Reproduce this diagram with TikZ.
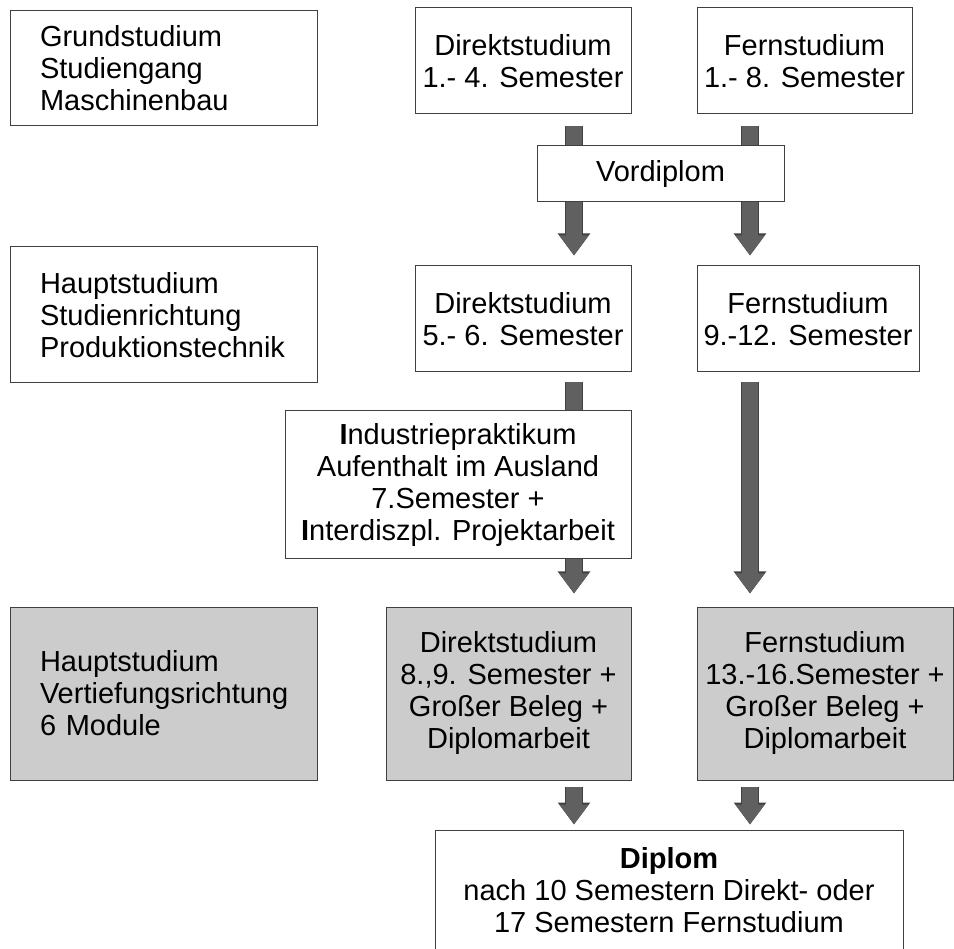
\documentclass[tikz,border=0pt]{standalone}
\usepackage{fontspec}
\setmainfont{Liberation Sans}
\usetikzlibrary{arrows.meta}
\definecolor{boxLine}{HTML}{404040}
\definecolor{greyFill}{HTML}{CCCCCC}
\definecolor{arrowFill}{HTML}{606060}
\newcommand\arrowLeft{574}
\newcommand\arrowRight{750}
\newcommand\sideMid{163.5}

\tikzset{
  box/.style={draw=boxLine, line width=1pt, fill=white, align=center, inner sep=0pt,
    font=\fontsize{29}{32}\selectfont},
  sidebox/.style={box, align=left, text width=247pt, inner xsep=30pt, minimum width=307pt},
  greybox/.style={fill=greyFill},
  bigarrow/.style={line width=16pt, draw=arrowFill, -{Triangle[width=28pt,length=20pt]},
    preaction={draw=boxLine, line width=18pt, -{Triangle[width=31pt,length=22pt]}}}
}

\begin{document}
\begin{tikzpicture}[x=1pt, y=-1pt]
    \useasboundingbox (0,0) rectangle (954,949);

    %% left column
    \node[sidebox, minimum height=115pt] (grund) at (\sideMid,68.5) {Grundstudium\\Studiengang\\Maschinenbau};
    \node[sidebox, minimum height=136pt] (haupt) at (\sideMid,315) {Hauptstudium\\Studienrichtung\\Produktionstechnik};
    \node[sidebox, greybox, minimum height=173pt] (vertiefung) at (\sideMid,693.5) {Hauptstudium\\Vertiefungsrichtung\\6 Module};

    %% Direktstudium and Fernstudium
    \node[box, minimum width=216pt, minimum height=106pt] (direktA) at (523,61) {Direktstudium\\1.- 4. Semester};
    \node[box, minimum width=215pt, minimum height=106pt] (fernA) at (804.5,61) {Fernstudium\\1.- 8. Semester};
    \node[box, minimum width=216pt, minimum height=106pt] (direktB) at (523,319) {Direktstudium\\5.- 6. Semester};
    \node[box, minimum width=222pt, minimum height=106pt] (fernB) at (808,319) {Fernstudium\\9.-12. Semester};
    \node[box, greybox, minimum width=245pt, minimum height=173pt] (direktC) at (508.5,693.5) {Direktstudium\\8.,9. Semester +\\Großer Beleg +\\Diplomarbeit};
    \node[box, greybox, minimum width=256pt, minimum height=173pt] (fernC) at (825,693.5) {Fernstudium\\13.-16.Semester +\\Großer Beleg +\\Diplomarbeit};
    \node[box, minimum width=468pt, minimum height=121pt] (diplom) at (669,890.5) {\textbf{Diplom}\\nach 10 Semestern Direkt- oder\\17 Semestern Fernstudium};

    %% arrows
    \coordinate (colA) at (\arrowLeft,0);
    \coordinate (colB) at (\arrowRight,0);
    \draw[bigarrow, shorten <=12pt, shorten >=10pt] (direktA.south -| colA) -- (direktB.north -| colA);
    \draw[bigarrow, shorten <=12pt, shorten >=10pt] (fernA.south -| colB) -- (fernB.north -| colB);
    \draw[bigarrow, shorten <=10pt, shorten >=13pt] (direktB.south -| colA) -- (direktC.north -| colA);
    \draw[bigarrow, shorten <=10pt, shorten >=13pt] (fernB.south -| colB) -- (fernC.north -| colB);
    \draw[bigarrow, shorten <=6pt, shorten >=5pt] (direktC.south -| colA) -- (diplom.north -| colA);
    \draw[bigarrow, shorten <=6pt, shorten >=5pt] (fernC.south -| colB) -- (diplom.north -| colB);

    %% boxes lying on the arrows
    \node[box, minimum width=247pt, minimum height=56pt] (vordiplom) at (660.5,174) {Vordiplom};
    \node[box, minimum width=346pt, minimum height=148pt] (praktikum) at (458,485) {\textbf{I}ndustriepraktikum\\Aufenthalt im Ausland\\7.Semester +\\\textbf{I}nterdiszpl. Projektarbeit};

\end{tikzpicture}
\end{document}
